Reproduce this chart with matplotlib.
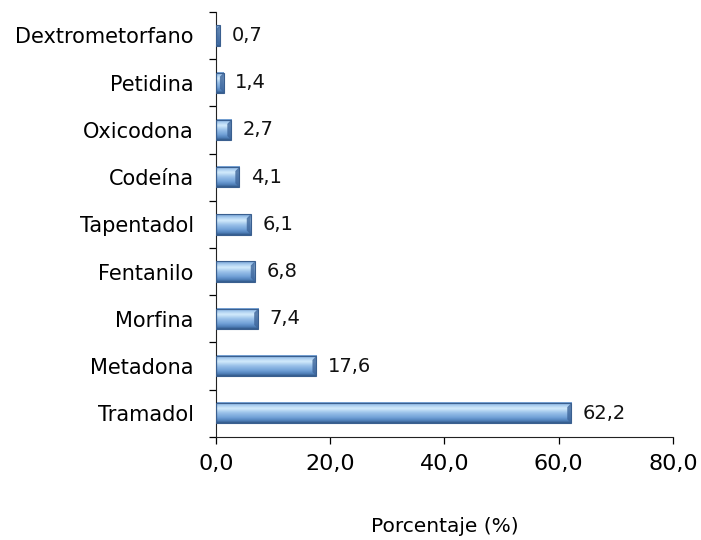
import numpy as np
import matplotlib
matplotlib.use("Agg")
import matplotlib.pyplot as plt
from matplotlib.colors import LinearSegmentedColormap

# Data (bottom to top)
drugs = ["Tramadol", "Metadona", "Morfina", "Fentanilo", "Tapentadol",
         "Codeína", "Oxicodona", "Petidina", "Dextrometorfano"]
values = [62.2, 17.6, 7.4, 6.8, 6.1, 4.1, 2.7, 1.4, 0.7]
xticks = [0, 20, 40, 60, 80]

plt.rcParams["font.family"] = ["DejaVu Sans"]

fig = plt.figure(figsize=(7.01, 5.40), dpi=100)
ax = fig.add_axes([0.308, 0.191, 0.652, 0.787])

# vertical gradient imitating the bevelled Excel bar (top -> bottom)
bar_cmap = LinearSegmentedColormap.from_list(
    "bevel",
    [(0.0, "#6f9bd0"), (0.15, "#a9cdf0"), (0.3, "#d4ecfc"),
     (0.5, "#9cc3ea"), (0.75, "#6f9fd6"), (0.9, "#4f7fb8"), (1.0, "#2f5686")])
grad = np.linspace(0, 1, 64).reshape(-1, 1)

h = 0.43
y = np.arange(len(drugs))
for yi, v in zip(y, values):
    ax.imshow(grad, cmap=bar_cmap, aspect="auto",
              extent=[0, v, yi - h / 2, yi + h / 2], origin="upper",
              interpolation="bicubic", zorder=2)
    # darker bevel at the right end
    d = min(0.7, v)
    ax.add_patch(plt.Polygon([(v - d, yi - h / 2 + h * 0.2), (v, yi - h / 2),
                              (v, yi + h / 2), (v - d, yi + h / 2 - h * 0.2)],
                             closed=True, facecolor="#3d659a", alpha=0.8,
                             edgecolor="none", zorder=3))
    ax.add_patch(plt.Rectangle((0, yi - h / 2), v, h, fill=False,
                               edgecolor="#3a5f8f", linewidth=0.8, zorder=4))
    ax.text(v + 2.0, yi, f"{v:.1f}".replace(".", ","), va="center",
            ha="left", fontsize=14, color="#111111")

ax.set_xlim(0, 80)
ax.set_ylim(-0.5, len(drugs) - 0.5)
ax.set_xticks(xticks)
ax.set_xticklabels([f"{t:.1f}".replace(".", ",") for t in xticks], fontsize=16)
ax.set_yticks(y)
ax.set_yticklabels(drugs, fontsize=15)
ax.set_yticks(np.arange(len(drugs) + 1) - 0.5, minor=True)
ax.tick_params(axis="y", which="major", length=0, pad=16)
ax.tick_params(axis="y", which="minor", length=5, width=0.9, direction="out")
ax.tick_params(axis="x", length=5, width=0.9, direction="out", pad=7)

for s in ["top", "right"]:
    ax.spines[s].set_visible(False)
ax.spines["left"].set_color("#222222")
ax.spines["bottom"].set_color("#222222")

ax.set_xlabel("Porcentaje (%)", fontsize=14.5, labelpad=31)

fig.savefig("out.png", dpi=100)
